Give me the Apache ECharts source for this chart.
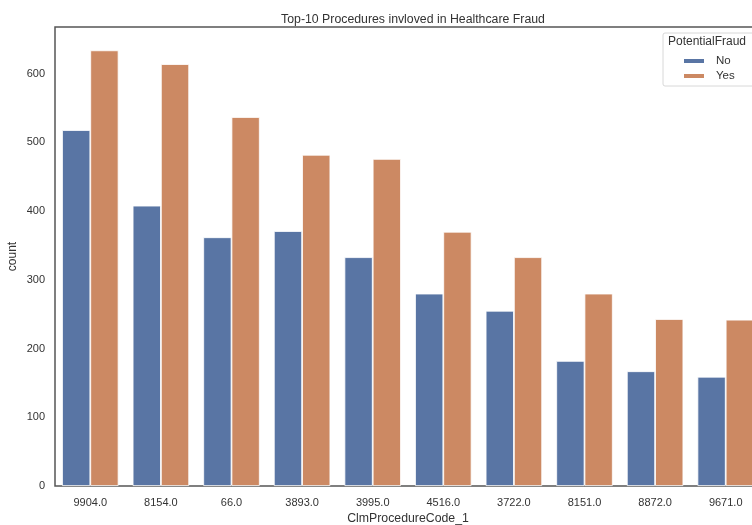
<!DOCTYPE html>
<html>
<head>
    <meta http-equiv="Content-Type" content="text/html; charset=utf-8"/>
    <script src="https://cdn.jsdelivr.net/npm/echarts@6/dist/echarts.min.js"></script>
    <style>
        html, body { margin: 0; padding: 0; background: #fff; }
    </style>
</head>
<body>
<div id="main" style="width:752px;height:525px;"></div>

<script type="text/javascript">
    // procedure codes (x categories)
    var codes = ['9904.0', '8154.0', '66.0', '3893.0', '3995.0', '4516.0', '3722.0', '8151.0', '8872.0', '9671.0'];
    // counts
    var countNo = [518, 408, 362, 371, 333, 280, 255, 182, 167, 159];
    var countYes = [634, 614, 537, 482, 476, 370, 333, 280, 243, 242];
    var yTicks = [0, 100, 200, 300, 400, 500, 600];

    var font = 'Liberation Sans, Arial, sans-serif';

    var chart = echarts.init(document.getElementById('main'));
    var option = {
        backgroundColor: '#fff',
        animation: false,
        title: {
            text: 'Top-10 Procedures invloved in Healthcare Fraud',
            left: 408,
            top: 9,
            textAlign: 'center',
            textStyle: {fontSize: 12.3, fontWeight: 'normal', color: '#333', fontFamily: font}
        },
        grid: {
            left: 55, right: -9, top: 27, bottom: 39,
            containLabel: false,
            outerBoundsMode: 'none',
            show: true,
            borderColor: '#555',
            borderWidth: 1.5
        },
        legend: {
            orient: 'vertical',
            left: 682,
            top: 55,
            padding: 0,
            itemWidth: 22,
            itemHeight: 6,
            itemGap: 3,
            icon: 'rect',
            textStyle: {fontSize: 11.5, color: '#333', fontFamily: font, padding: [0, 0, 0, 6]},
            data: ['No', 'Yes']
        },
        graphic: [
            {
                type: 'rect',
                shape: {x: 663, y: 33, width: 100, height: 53, r: 2},
                style: {fill: 'rgba(255,255,255,0.8)', stroke: '#d8d8d8', lineWidth: 1},
                z: 0
            },
            {
                type: 'text',
                left: 668, top: 36,
                style: {text: 'PotentialFraud', fontSize: 12, fill: '#333', fontFamily: font},
                z: 10
            }
        ],
        xAxis: {
            type: 'category',
            data: codes,
            name: 'ClmProcedureCode_1',
            nameLocation: 'middle',
            nameGap: 26,
            nameTextStyle: {fontSize: 12.3, color: '#333', fontFamily: font},
            axisLine: {show: false},
            axisTick: {show: false},
            axisLabel: {fontSize: 11, color: '#333', fontFamily: font, margin: 11}
        },
        yAxis: {
            type: 'value',
            min: 0,
            max: 668,
            interval: 100,
            name: 'count',
            nameLocation: 'middle',
            nameGap: 36,
            nameMoveOverlap: false,
            nameTextStyle: {fontSize: 12, color: '#333', fontFamily: font},
            axisLine: {show: false},
            axisTick: {show: false},
            splitLine: {show: false},
            axisLabel: {
                fontSize: 11, color: '#333', fontFamily: font, margin: 10,
                showMaxLabel: false,
                formatter: function (v) { return yTicks.indexOf(v) >= 0 ? String(v) : ''; }
            }
        },
        series: [
            {
                name: 'No',
                type: 'bar',
                data: countNo,
                barGap: '0%',
                barCategoryGap: '20%',
                itemStyle: {color: '#5975a4', borderColor: '#fff', borderWidth: 0.8}
            },
            {
                name: 'Yes',
                type: 'bar',
                data: countYes,
                barGap: '0%',
                barCategoryGap: '20%',
                itemStyle: {color: '#cc8963', borderColor: '#fff', borderWidth: 0.8}
            }
        ]
    };
    chart.setOption(option);
</script>
</body>
</html>
